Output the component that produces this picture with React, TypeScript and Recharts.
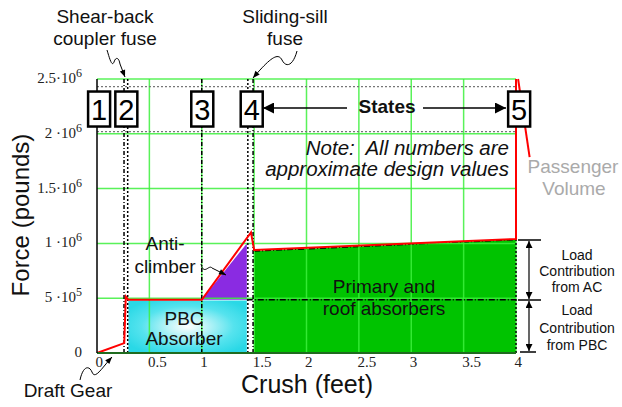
import React from 'react';
import { ComposedChart, Line, Area, XAxis, YAxis, ReferenceLine, ReferenceDot } from 'recharts';

// crush (ft) vs force (lb) for the design crush curve
const forceX = [0, 0.26, 0.275, 0.3, 1.0, 1.47, 1.5, 4.0, 4.0];
const forceY = [0, 90000, 515000, 485000, 485000, 1100000, 940000, 1040000, 2500000];

// energy absorbers (filled regions)
const pbcX = [0.3, 1.43];
const pbcTop = [480000, 480000];
const acX = [1.0, 1.43];
const acBase = [485000, 485000];
const acTop = [485000, 1000000];
const primaryX = [1.5, 4.0];
const primaryTop = [930000, 1035000];

// states
const stateLabels = ['1', '2', '3', '4', '5'];
const stateBoxX = [0.02, 0.28, 1.005, 1.477, 4.03];
const stateBoxY = 2226000;
const stateLineX = [0.258, 0.293, 1.0, 1.44, 1.49, 4.0];
const bandY = [2020000, 2430000];
const pbcLoadY = 485000;

const xTicks = [0, 0.5, 1, 1.5, 2, 2.5, 3, 3.5, 4];
const xTickLabels = ['0', '0.5', '1', '1.5', '2', '2.5', '3', '3.5', '4'];
const yTicks = [0, 500000, 1000000, 1500000, 2000000, 2500000];
const yTickBase = ['0', '5 \u00b710', '1 \u00b710', '1.5\u00b710', '2 \u00b710', '2.5\u00b710'];
const yTickExp = ['', '5', '6', '6', '6', '6'];

const forceData = forceX.map((x, i) => ({ x, y: forceY[i] }));
const pbcData = pbcX.map((x, i) => ({ x, y: [0, pbcTop[i]] }));
const acData = acX.map((x, i) => ({ x, y: [acBase[i], acTop[i]] }));
const primaryData = primaryX.map((x, i) => ({ x, y: [0, primaryTop[i]] }));

const SANS = 'Liberation Sans, Arial, sans-serif';
const SERIF = 'Liberation Serif, Times New Roman, serif';
const GRID = '#3cf03c';

const XTick = (props: any) => {
  const { x, y, payload, index } = props;
  return (
    <text x={x - 1.5} y={y + 12} textAnchor="start" fontFamily={SERIF} fontSize={15} fill="#222">
      {xTickLabels[index] ?? payload.value}
    </text>
  );
};

const YTick = (props: any) => {
  const { x, y, index } = props;
  return (
    <text x={x} y={y + 4} textAnchor="end" fontFamily={SERIF} fontSize={15} fill="#222">
      {yTickBase[index]}
      {yTickExp[index] && (
        <tspan dy={-6} fontSize={12}>
          {yTickExp[index]}
        </tspan>
      )}
    </text>
  );
};

const StateBox = (label: string) => (props: any) => {
  const { cx, cy } = props;
  return (
    <g>
      <rect x={cx - 11} y={cy - 17.5} width={22} height={35} fill="#fff" stroke="#000" strokeWidth={2.5} />
      <text x={cx} y={cy + 10.5} textAnchor="middle" fontFamily={SANS} fontSize={29} fill="#000">
        {label}
      </text>
    </g>
  );
};

export default function App() {
  return (
    <div style={{ position: 'absolute', left: 0, top: 0, width: 622, height: 407, background: '#fff' }}>
      <svg width={0} height={0} style={{ position: 'absolute' }}>
        <defs>
          <radialGradient id="pbcFill" cx="50%" cy="50%" r="60%">
            <stop offset="0%" stopColor="#ffffff" />
            <stop offset="25%" stopColor="#c4f5f8" />
            <stop offset="65%" stopColor="#55e3ee" />
            <stop offset="100%" stopColor="#2ad8e6" />
          </radialGradient>
        </defs>
      </svg>
      <ComposedChart width={622} height={407} margin={{ top: 79, right: 106, bottom: 24, left: 37 }}>
        <XAxis
          type="number"
          dataKey="x"
          domain={[0, 4]}
          ticks={xTicks}
          tickLine={false}
          tickSize={0}
          tick={<XTick />}
          axisLine={{ stroke: '#1f6b1f', strokeWidth: 2 }}
          height={30}
        />
        <YAxis
          type="number"
          domain={[0, 2500000]}
          ticks={yTicks}
          tickLine={false}
          tickSize={0}
          tickMargin={15}
          tick={<YTick />}
          axisLine={{ stroke: '#000', strokeWidth: 1.5 }}
          width={60}
        />
        <Area data={pbcData} dataKey="y" type="linear" fill="url(#pbcFill)" fillOpacity={1} stroke="none" isAnimationActive={false} />
        <Area data={acData} dataKey="y" type="linear" fill="#8a2be2" fillOpacity={1} stroke="none" isAnimationActive={false} />
        <Area
          data={primaryData}
          dataKey="y"
          type="linear"
          fill="#00c300"
          fillOpacity={1}
          stroke="#000"
          strokeWidth={1.5}
          strokeDasharray="6 2 1 2"
          isAnimationActive={false}
        />
        {xTicks.slice(1).map((v) => (
          <ReferenceLine key={'gx' + v} x={v} stroke={GRID} strokeWidth={1.5} strokeOpacity={0.85} />
        ))}
        {yTicks.slice(1).map((v) => (
          <ReferenceLine key={'gy' + v} y={v} stroke={GRID} strokeWidth={1.5} strokeOpacity={0.85} />
        ))}
        {bandY.map((v) => (
          <ReferenceLine key={'b' + v} y={v} stroke="#777" strokeWidth={1.2} strokeDasharray="2 2" />
        ))}
        {stateLineX.map((v, i) => (
          <ReferenceLine
            key={'s' + v}
            x={v}
            stroke="#000"
            strokeWidth={1.5}
            strokeDasharray={i % 2 === 0 ? '4 2 1 2' : '2 2'}
          />
        ))}
        <ReferenceLine
          segment={[
            { x: 1.43, y: pbcLoadY },
            { x: 4, y: pbcLoadY },
          ]}
          stroke="#000"
          strokeWidth={1.5}
          strokeDasharray="6 2 1 2"
        />
        <Line data={forceData} dataKey="y" type="linear" stroke="#ff0000" strokeWidth={2} dot={false} isAnimationActive={false} />
        <ReferenceLine
          segment={[
            { x: 4.02, y: 2500000 },
            { x: 4.13, y: 1788000 },
          ]}
          stroke="#ff0000"
          strokeWidth={2}
          ifOverflow="visible"
        />
        {stateLabels.map((s, i) => (
          <ReferenceDot key={'box' + s} x={stateBoxX[i]} y={stateBoxY} r={1} ifOverflow="visible" shape={StateBox(s)} />
        ))}
      </ComposedChart>
      <svg width={622} height={407} style={{ position: 'absolute', left: 0, top: 0, pointerEvents: 'none' }}>
        <defs>
          <marker id="thin" viewBox="0 0 10 10" refX={10} refY={5} markerWidth={9} markerHeight={7} markerUnits="userSpaceOnUse" orient="auto">
            <path d="M0,1 L10,5 L0,9 z" fill="#000" />
          </marker>
          <marker id="big" viewBox="0 0 10 10" refX={10} refY={5} markerWidth={16} markerHeight={11} markerUnits="userSpaceOnUse" orient="auto">
            <path d="M0,0 L10,5 L0,10 z" fill="#000" />
          </marker>
          <marker id="brk" viewBox="0 0 10 10" refX={10} refY={5} markerWidth={10} markerHeight={7} markerUnits="userSpaceOnUse" orient="auto">
            <path d="M0,0 L10,5 L0,10 z" fill="#000" />
          </marker>
        </defs>
        <g fontFamily={SANS} fill="#111">
          <text x={105} y={23} fontSize={19} textAnchor="middle">Shear-back</text>
          <text x={105} y={45} fontSize={19} textAnchor="middle">coupler fuse</text>
          <text x={285} y={23} fontSize={19} textAnchor="middle">Sliding-sill</text>
          <text x={285} y={45} fontSize={19} textAnchor="middle">fuse</text>
          <text x={387} y={113} fontSize={19} fontWeight="bold" textAnchor="middle">States</text>
          <text x={509} y={155} fontSize={20.5} fontStyle="italic" textAnchor="end">{'Note:\u00a0 All numbers are'}</text>
          <text x={509} y={176} fontSize={20.5} fontStyle="italic" textAnchor="end">approximate design values</text>
          <text x={573} y={173} fontSize={19} textAnchor="middle" fill="#aaa">Passenger</text>
          <text x={574} y={195} fontSize={19} textAnchor="middle" fill="#aaa">Volume</text>
          <text x={165} y={250} fontSize={19} textAnchor="middle">Anti-</text>
          <text x={165} y={273} fontSize={19} textAnchor="middle">climber</text>
          <text x={184} y={325} fontSize={19} textAnchor="middle">PBC</text>
          <text x={184} y={345} fontSize={19} textAnchor="middle">Absorber</text>
          <text x={384} y={293} fontSize={19} textAnchor="middle">Primary and</text>
          <text x={384} y={315} fontSize={19} textAnchor="middle">roof absorbers</text>
          <text x={68} y={397} fontSize={19} textAnchor="middle">Draft Gear</text>
          <text x={307} y={393} fontSize={25} textAnchor="middle">Crush (feet)</text>
          <text x={29} y={215} fontSize={24} textAnchor="middle" transform="rotate(-90, 29, 215)">Force (pounds)</text>
          <g fontSize={14} textAnchor="middle">
            <text x={577} y={260}>Load</text>
            <text x={577} y={276}>Contribution</text>
            <text x={577} y={292}>from AC</text>
            <text x={577} y={315}>Load</text>
            <text x={577} y={333}>Contribution</text>
            <text x={577} y={350}>from PBC</text>
          </g>
        </g>
        <g fill="none" stroke="#000" strokeWidth={1}>
          <path d="M107,50 C110,60 112,67 114,62 C116,56 119,58 120,64 L125,77" markerEnd="url(#thin)" />
          <path d="M297,51 C293,66 286,68 282,60 C278,52 270,58 253,78" markerEnd="url(#thin)" />
          <path d="M201,264 C204,276 209,264 212,268 L226,275" markerEnd="url(#thin)" />
          <path d="M80,380 C83,366 89,365 92,372 C95,380 101,369 112,357" markerEnd="url(#thin)" />
        </g>
        <g stroke="#000" strokeWidth={1.5} fill="none">
          <line x1={347} y1={108} x2={263} y2={108} markerEnd="url(#big)" />
          <line x1={423} y1={108} x2={506} y2={108} markerEnd="url(#big)" />
          <line x1={518} y1={240} x2={541} y2={240} />
          <line x1={518} y1={300} x2={541} y2={300} />
          <line x1={520} y1={352} x2={536} y2={352} />
        </g>
        <g stroke="#000" strokeWidth={1.2} fill="none">
          <line x1={529} y1={270} x2={529} y2={241} markerEnd="url(#brk)" />
          <line x1={529} y1={270} x2={529} y2={299} markerEnd="url(#brk)" />
          <line x1={529} y1={326} x2={529} y2={301} markerEnd="url(#brk)" />
          <line x1={529} y1={326} x2={529} y2={351} markerEnd="url(#brk)" />
        </g>
      </svg>
    </div>
  );
}
